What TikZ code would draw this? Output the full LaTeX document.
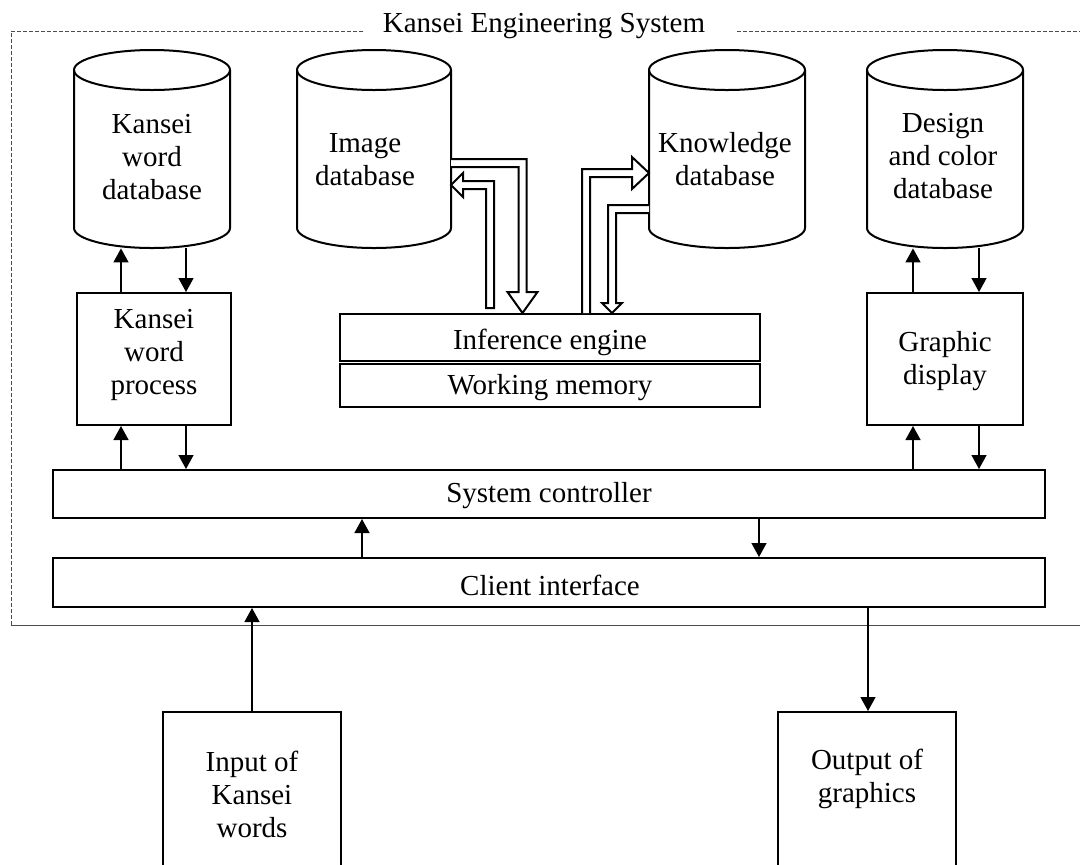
\documentclass[tikz,border=0pt]{standalone}
\usepackage{fontspec}
\setmainfont{Liberation Serif}
\usetikzlibrary{arrows.meta,calc}
\newcommand\dbcyl[6]{%
  \draw[cylline] (#2-#3,-70) -- (#2-#3,-228) arc[start angle=180,end angle=360,x radius=#3,y radius=20] -- (#2+#3,-70);
  \draw[cylline] (#2,-70) ellipse[x radius=#3,y radius=20];
  \node[inner sep=0pt,minimum width=#3pt,minimum height=99pt] (#1) at (#2,-149) {};
  \node[txt] (#1-t) at (#4,-#5) {#6};
}
\begin{document}
\begin{tikzpicture}[x=0.5pt,y=0.5pt,
  box/.style={draw,line width=1pt,inner sep=0pt},
  txt/.style={align=center,font=\fontsize{14.5}{16.5}\selectfont,inner sep=0pt},
  arr/.style={line width=0.7pt,-{Triangle[width=7.5pt,length=7pt]}},
  hollow/.style={draw,line width=1pt,fill=white,line join=miter},
  frame/.style={draw=black!70,line width=0.5pt},
  cylline/.style={line width=1pt}]
\useasboundingbox (0,0) rectangle (1080,-864);

% outer frame
\draw[frame,dash pattern=on 2pt off 1pt] (363,-31) -- (11,-31) -- (11,-625);
\draw[frame,dash pattern=on 2pt off 1pt] (737,-31) -- (1080,-31);
\draw[frame] (11,-625) -- (1080,-625);
\node[txt,anchor=base] (title) at (544,-32) {Kansei Engineering System};

% databases
\dbcyl{kwdb}{152}{78}{152}{157}{Kansei\\word\\database}
\dbcyl{imdb}{374}{77}{365}{160}{Image\\database}
\dbcyl{kndb}{727}{78}{725}{159}{Knowledge\\database}
\dbcyl{ddb}{945}{78}{943}{156}{Design\\and color\\database}

% boxes
\node[box,minimum width=77pt,minimum height=66pt] (kwp) at (154,-359) {};
\node[txt] (kwp-t) at (154,-355) {Kansei\\word\\process};
\node[box,minimum width=78pt,minimum height=66pt] (gd) at (945,-359) {};
\node[txt] (gd-t) at (945,-361) {Graphic\\display};
\node[box,minimum width=210pt,minimum height=23.25pt] (ie) at (550,-337.25) {};
\node[txt] (ie-t) at (550,-342) {Inference engine};
\node[box,minimum width=210pt,minimum height=21.5pt] (wm) at (550,-385.5) {};
\node[txt] (wm-t) at (550,-388) {Working memory};
\node[box,minimum width=496pt,minimum height=24pt] (sc) at (549,-494) {};
\node[txt] (sc-t) at (549,-496) {System controller};
\node[box,minimum width=496pt,minimum height=24.5pt] (ci) at (549,-582.5) {};
\node[txt] (ci-t) at (550,-585) {Client interface};
\node[box,minimum width=89pt,minimum height=84pt] (in) at (252,-796) {};
\node[txt] (in-t) at (252,-794) {Input of\\Kansei\\words};
\node[box,minimum width=89pt,minimum height=84pt] (out) at (867,-796) {};
\node[txt] (out-t) at (867,-779) {Output of\\graphics};

% x positions of the thin arrows
\coordinate (xa) at (121,0);
\coordinate (xb) at (186,0);
\coordinate (xc) at (913,0);
\coordinate (xd) at (979,0);
\coordinate (xe) at (362,0);
\coordinate (xf) at (759,0);
\coordinate (xg) at (252,0);
\coordinate (xh) at (868,0);

\draw[arr] (xa |- kwp.north) -- (xa |- kwdb.south);
\draw[arr] (xb |- kwdb.south) -- (xb |- kwp.north);
\draw[arr] (xa |- sc.north) -- (xa |- kwp.south);
\draw[arr] (xb |- kwp.south) -- (xb |- sc.north);
\draw[arr] (xc |- gd.north) -- (xc |- ddb.south);
\draw[arr] (xd |- ddb.south) -- (xd |- gd.north);
\draw[arr] (xc |- sc.north) -- (xc |- gd.south);
\draw[arr] (xd |- gd.south) -- (xd |- sc.north);
\draw[arr] (xe |- ci.north) -- (xe |- sc.south);
\draw[arr] (xf |- sc.south) -- (xf |- ci.north);
\draw[arr] (xg |- in.north) -- (xg |- ci.south);
\draw[arr] (xh |- ci.south) -- (xh |- out.north);

% hollow arrows between the databases and the inference engine
\draw[hollow] (451,-159) -- (526.5,-159) -- (526.5,-292) -- (537.5,-292) -- (522.5,-313)
  -- (507.5,-292) -- (518.5,-292) -- (518.5,-167) -- (451,-167);
\draw[hollow] (486,-308) -- (494,-308) -- (494,-181) -- (463,-181) -- (463,-173) -- (451,-185)
  -- (463,-197) -- (463,-189) -- (486,-189) -- cycle;
\draw[hollow] (582,-313) -- (582,-169) -- (632,-169) -- (632,-157) -- (649,-173) -- (632,-189)
  -- (632,-177) -- (590,-177) -- (590,-313);
\draw[hollow] (649,-205) -- (608,-205) -- (608,-303) -- (602,-303) -- (612,-313) -- (622,-303)
  -- (616,-303) -- (616,-213) -- (649,-213);
\end{tikzpicture}
\end{document}
